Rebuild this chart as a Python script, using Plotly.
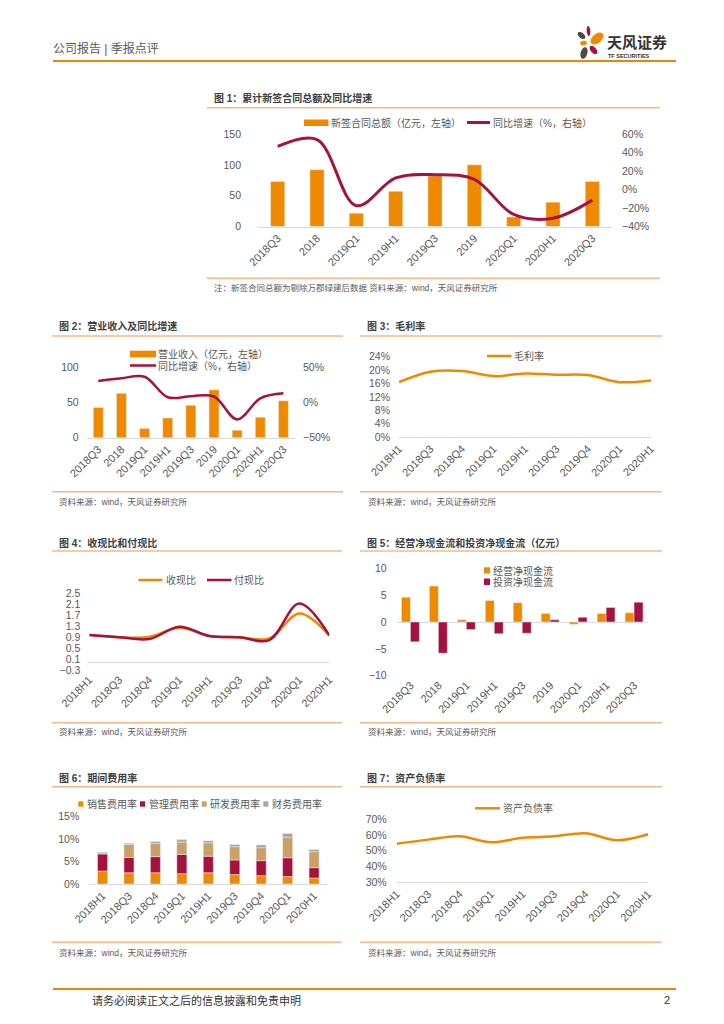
import numpy as np
import plotly.graph_objects as go

W, H = 724, 1024


def X(px):
    return px / W


def Y(py):
    return 1 - py / H


FONT = "Liberation Sans, Arial, Noto Sans CJK SC, sans-serif"
ORANGE = '#EF8A00'
RED = '#A6123D'
TAN = '#C9A166'
GRAY = '#A6A6A6'
TXT = '#595959'
DARK = '#404040'
SEP = '#F6B88A'
AXL = '#D9D9D9'

# ---------------- data ----------------
cats_a = ['2018Q3', '2018', '2019Q1', '2019H1', '2019Q3', '2019', '2020Q1', '2020H1', '2020Q3']
cats_b = ['2018H1', '2018Q3', '2018Q4', '2019Q1', '2019H1', '2019Q3', '2019Q4', '2020Q1', '2020H1']

contract_amt = [73, 92, 21.5, 57, 82, 100, 15.5, 39.5, 73]          # 亿元
contract_yoy = [46.5, 54, -17.5, 12.5, 16, 11, -27, -31, -11.5]     # %

revenue = [43, 63, 13, 28, 46, 68, 10.5, 29, 52.5]                   # 亿元
revenue_yoy = [30.5, 34.5, 36.5, 7.5, 9, 8.5, -24, 6, 13]            # %

gross_margin = [16.4, 19.5, 19.7, 18.2, 19.0, 18.6, 18.5, 16.4, 16.9]  # %

cash_recv_ratio = [0.98, 0.90, 0.92, 1.25, 0.95, 0.90, 0.86, 1.77, 0.97]
cash_pay_ratio = [0.98, 0.90, 0.84, 1.28, 0.95, 0.90, 0.80, 2.13, 0.97]

op_cf = [4.6, 6.7, 0.4, 4.0, 3.6, 1.6, -0.4, 1.6, 1.7]
inv_cf = [-3.7, -5.8, -1.4, -2.2, -2.1, 0.4, 0.9, 2.7, 3.7]

sales_exp = [2.9, 2.5, 2.5, 2.3, 2.5, 2.1, 1.85, 1.65, 1.35]
admin_exp = [3.8, 3.4, 3.6, 4.3, 3.7, 3.25, 3.35, 4.2, 2.3]
rd_exp = [0.15, 2.9, 2.95, 2.75, 3.0, 2.95, 2.9, 4.6, 3.55]
fin_exp = [0.25, 0.3, 0.45, 0.55, 0.45, 0.5, 0.6, 0.8, 0.5]

debt_ratio = [54.5, 57.1, 59.2, 55.4, 58.3, 59.2, 61.1, 56.7, 60.5]

fig = go.Figure()

# ---------------- Fig 1 ----------------
fig.add_trace(go.Bar(x=cats_a, y=contract_amt, marker_color=ORANGE, width=0.36,
                     xaxis='x', yaxis='y'))
fig.add_trace(go.Scatter(x=cats_a, y=contract_yoy, mode='lines',
                         line=dict(color=RED, width=3, shape='spline', smoothing=1),
                         xaxis='x', yaxis='y2'))
# ---------------- Fig 2 ----------------
fig.add_trace(go.Bar(x=cats_a, y=revenue, marker_color=ORANGE, width=0.43,
                     xaxis='x2', yaxis='y3'))
fig.add_trace(go.Scatter(x=cats_a, y=revenue_yoy, mode='lines',
                         line=dict(color=RED, width=2.5, shape='spline', smoothing=1),
                         xaxis='x2', yaxis='y4'))
# ---------------- Fig 3 ----------------
fig.add_trace(go.Scatter(x=cats_b, y=gross_margin, mode='lines',
                         line=dict(color=ORANGE, width=2.5, shape='spline', smoothing=1),
                         xaxis='x3', yaxis='y5'))
# ---------------- Fig 4 ----------------
fig.add_trace(go.Scatter(x=cats_b, y=cash_recv_ratio, mode='lines',
                         line=dict(color=ORANGE, width=2.5, shape='spline', smoothing=1),
                         xaxis='x4', yaxis='y6'))
fig.add_trace(go.Scatter(x=cats_b, y=cash_pay_ratio, mode='lines',
                         line=dict(color=RED, width=2.5, shape='spline', smoothing=1),
                         xaxis='x4', yaxis='y6'))
# ---------------- Fig 5 ----------------
fig.add_trace(go.Bar(x=cats_a, y=op_cf, marker_color=ORANGE, width=0.32, offset=-0.33,
                     xaxis='x5', yaxis='y7'))
fig.add_trace(go.Bar(x=cats_a, y=inv_cf, marker_color=RED, width=0.32, offset=-0.01,
                     xaxis='x5', yaxis='y7'))
# ---------------- Fig 6 ----------------
s = np.array(sales_exp)
a = np.array(admin_exp)
r = np.array(rd_exp)
f = np.array(fin_exp)
for vals, base, col in [(s, np.zeros_like(s), ORANGE), (a, s, RED), (r, s + a, TAN), (f, s + a + r, GRAY)]:
    fig.add_trace(go.Bar(x=cats_b, y=vals, base=base, marker_color=col, width=0.38,
                         xaxis='x6', yaxis='y8'))
# ---------------- Fig 7 ----------------
fig.add_trace(go.Scatter(x=cats_b, y=debt_ratio, mode='lines',
                         line=dict(color=ORANGE, width=2.5, shape='spline', smoothing=1),
                         xaxis='x7', yaxis='y9'))

xtickfont = dict(size=11, color=TXT, family=FONT)
ytickfont = dict(size=10.5, color=TXT, family=FONT)


def xax(l, r, anchor, line=True):
    return dict(domain=[X(l), X(r)], anchor=anchor, type='category', tickangle=-45,
                showgrid=False, zeroline=False, showline=line, linecolor=AXL, linewidth=1,
                ticks='', tickfont=xtickfont, fixedrange=True, automargin=False)


def yax(t, b, anchor, rng, dtick, suffix='', standoff=8, tick0=None, fmt=None, zero=False):
    d = dict(domain=[Y(b), Y(t)], anchor=anchor, range=rng, dtick=dtick, ticksuffix=suffix,
             showgrid=False, zeroline=zero, zerolinecolor=AXL, zerolinewidth=1,
             showline=False, ticks='', tickfont=ytickfont, ticklabelstandoff=standoff,
             fixedrange=True, automargin=False)
    if tick0 is not None:
        d['tick0'] = tick0
    if fmt:
        d['tickformat'] = fmt
    return d


layout = dict(
    width=W, height=H, margin=dict(l=0, r=0, t=0, b=0, pad=0, autoexpand=False),
    paper_bgcolor='white', plot_bgcolor='white', showlegend=False,
    barmode='overlay', font=dict(family=FONT, color=TXT),
)

layout['xaxis'] = xax(258, 612, 'y')
layout['yaxis'] = yax(134, 226.5, 'x', [0, 150], 50, standoff=16)
y2 = yax(134, 226.5, 'x', [-40, 60], 20, suffix='%', standoff=9)
y2.pop('domain')
y2.update(overlaying='y', side='right')
layout['yaxis2'] = y2

layout['xaxis2'] = xax(86.7, 295, 'y3')
layout['yaxis3'] = yax(367.3, 437.7, 'x2', [0, 100], 50, standoff=7)
y4 = yax(367.3, 437.7, 'x2', [-50, 50], 50, suffix='%', standoff=7)
y4.pop('domain')
y4.update(overlaying='y3', side='right')
layout['yaxis4'] = y4

layout['xaxis3'] = xax(399, 651, 'y5')
layout['yaxis5'] = yax(356.7, 437, 'x3', [0, 24], 4, suffix='%')

layout['xaxis4'] = xax(89.3, 329.3, 'y6', line=False)
layout['yaxis6'] = yax(593.3, 670.3, 'x4', [-0.3, 2.5], 0.4, tick0=-0.3, fmt='.1f', zero=True)

layout['xaxis5'] = xax(396.7, 648.3, 'y7', line=False)
layout['yaxis7'] = yax(568.3, 675.7, 'x5', [-10, 10], 5, standoff=9, zero=True)

layout['xaxis6'] = xax(89.3, 327.3, 'y8')
layout['yaxis8'] = yax(816.7, 884, 'x6', [0, 15], 5, suffix='%', standoff=9)

layout['xaxis7'] = xax(396.7, 648.3, 'y9')
layout['yaxis9'] = yax(819.3, 882.3, 'x7', [30, 70], 10, suffix='%', standoff=9)

annotations = []
shapes = []


def txt(x, y, s, size=10, color=TXT, bold=False, anchor='left'):
    annotations.append(dict(x=X(x), y=Y(y), xref='paper', yref='paper',
                            text=('<b>%s</b>' % s if bold else s), showarrow=False,
                            xanchor=anchor, yanchor='middle', borderpad=0,
                            font=dict(size=size, color=color, family=FONT)))


def hline(x0, x1, y, color=SEP, width=1.5):
    shapes.append(dict(type='line', xref='paper', yref='paper', x0=X(x0), x1=X(x1),
                       y0=Y(y), y1=Y(y), line=dict(color=color, width=width)))


def rect(x0, x1, y0, y1, color):
    shapes.append(dict(type='rect', xref='paper', yref='paper', x0=X(x0), x1=X(x1),
                       y0=Y(y1), y1=Y(y0), line=dict(width=0), fillcolor=color))


def ellipse(cx, cy, a_, b_, ang, color, n=28):
    t = np.linspace(0, 2 * np.pi, n, endpoint=False)
    th = np.radians(ang)
    pts = []
    for ti in t:
        px = cx + a_ * np.cos(ti) * np.cos(th) - b_ * np.sin(ti) * np.sin(th)
        py = cy - (a_ * np.cos(ti) * np.sin(th) + b_ * np.sin(ti) * np.cos(th))
        pts.append('%.5f,%.5f' % (X(px), Y(py)))
    shapes.append(dict(type='path', xref='paper', yref='paper',
                       path='M ' + ' L '.join(pts) + ' Z', fillcolor=color, line=dict(width=0)))


# ---------- header ----------
txt(52, 48, '公司报告 | 季报点评', size=12, color=TXT)
hline(53, 676, 61, color='#F08300', width=2)
ellipse(588.5, 31, 5, 1.8, 95, RED)
ellipse(581.5, 35.5, 4.5, 2.7, -40, '#4A4A4A')
ellipse(597, 38.5, 7.5, 4.5, 40, ORANGE)
ellipse(583.5, 43, 3.5, 2.3, 10, ORANGE)
ellipse(593.5, 50, 5, 2.8, -50, RED)
ellipse(584, 53, 6, 3.3, 75, '#4A4A4A')
txt(606, 42, '天风证券', size=15, color='#333333', bold=True)
txt(607, 56, 'TF SECURITIES', size=5.5, color='#333333', bold=True)

# ---------- footer ----------
hline(53, 676, 989, color='#F08300', width=2)
txt(91, 1000, '请务必阅读正文之后的信息披露和免责申明', size=11, color='#333333')
txt(671, 1000, '2', size=11, color='#333333', anchor='right')

# ---------- Fig 1 frame ----------
txt(213, 97.5, '图 1：累计新签合同总额及同比增速', size=10, color=DARK, bold=True)
hline(207, 660, 107.7)
hline(207, 660, 278.3)
txt(213, 288, '注：新签合同总额为剔除万郡绿建后数据 资料来源：wind，天风证券研究所', size=8.5)
rect(304, 328.5, 119.5, 126, ORANGE)
txt(330, 122.5, '新签合同总额（亿元，左轴）', size=10)
hline(467, 490, 122.5, color=RED, width=3)
txt(492, 122.5, '同比增速（%，右轴）', size=10)

# ---------- Fig 2 frame ----------
txt(58, 325.5, '图 2：营业收入及同比增速', size=10, color=DARK, bold=True)
hline(52, 343, 336)
hline(52, 343, 491.7)
txt(58, 502.3, '资料来源：wind，天风证券研究所', size=8.5)
rect(130, 156, 350.7, 357.3, ORANGE)
txt(157, 354, '营业收入（亿元，左轴）', size=10)
hline(130, 156, 365.5, color=RED, width=2.5)
txt(157, 365.5, '同比增速（%，右轴）', size=10)

# ---------- Fig 3 frame ----------
txt(366, 325.5, '图 3：毛利率', size=10, color=DARK, bold=True)
hline(360, 662, 336)
hline(360, 662, 491.7)
txt(366.5, 502.3, '资料来源：wind，天风证券研究所', size=8.5)
hline(487, 511.5, 356, color=ORANGE, width=2.5)
txt(513, 356, '毛利率', size=10)

# ---------- Fig 4 frame ----------
txt(58, 542.5, '图 4：收现比和付现比', size=10, color=DARK, bold=True)
hline(52, 342, 551)
hline(52, 342, 722.7)
txt(58, 732.3, '资料来源：wind，天风证券研究所', size=8.5)
hline(138.5, 162.5, 580, color=ORANGE, width=2.5)
txt(164.5, 580, '收现比', size=10)
hline(207, 231.5, 580, color=RED, width=2.5)
txt(233, 580, '付现比', size=10)

# ---------- Fig 5 frame ----------
txt(366, 542.5, '图 5：经营净现金流和投资净现金流（亿元）', size=10, color=DARK, bold=True)
hline(360, 662, 551)
hline(360, 662, 722.7)
txt(366.5, 732.3, '资料来源：wind，天风证券研究所', size=8.5)
rect(484, 490, 567.3, 573.5, ORANGE)
txt(491.5, 570.5, '经营净现金流', size=10)
rect(484, 490, 578.5, 585, RED)
txt(491.5, 581.7, '投资净现金流', size=10)

# ---------- Fig 6 frame ----------
txt(58, 777.7, '图 6：期间费用率', size=10, color=DARK, bold=True)
hline(52, 342, 786.7)
hline(52, 342, 942.3)
txt(58, 952.7, '资料来源：wind，天风证券研究所', size=8.5)
for x0, col, lab in [(78.3, ORANGE, '销售费用率'), (140, RED, '管理费用率'),
                     (201.7, TAN, '研发费用率'), (263.3, GRAY, '财务费用率')]:
    rect(x0, x0 + 5, 801.3, 806.7, col)
    txt(x0 + 7.5, 804, lab, size=10)

# ---------- Fig 7 frame ----------
txt(366, 777.7, '图 7：资产负债率', size=10, color=DARK, bold=True)
hline(360, 662, 786.7)
hline(360, 662, 942.3)
txt(366.5, 952.7, '资料来源：wind，天风证券研究所', size=8.5)
hline(475, 500, 808.3, color=ORANGE, width=2.5)
txt(502, 808.3, '资产负债率', size=10)

layout['annotations'] = annotations
layout['shapes'] = shapes
fig.update_layout(layout)

fig.write_html("out.html", config={'displayModeBar': False},
               post_script="document.body.style.margin='0';document.body.style.overflow='hidden';")
